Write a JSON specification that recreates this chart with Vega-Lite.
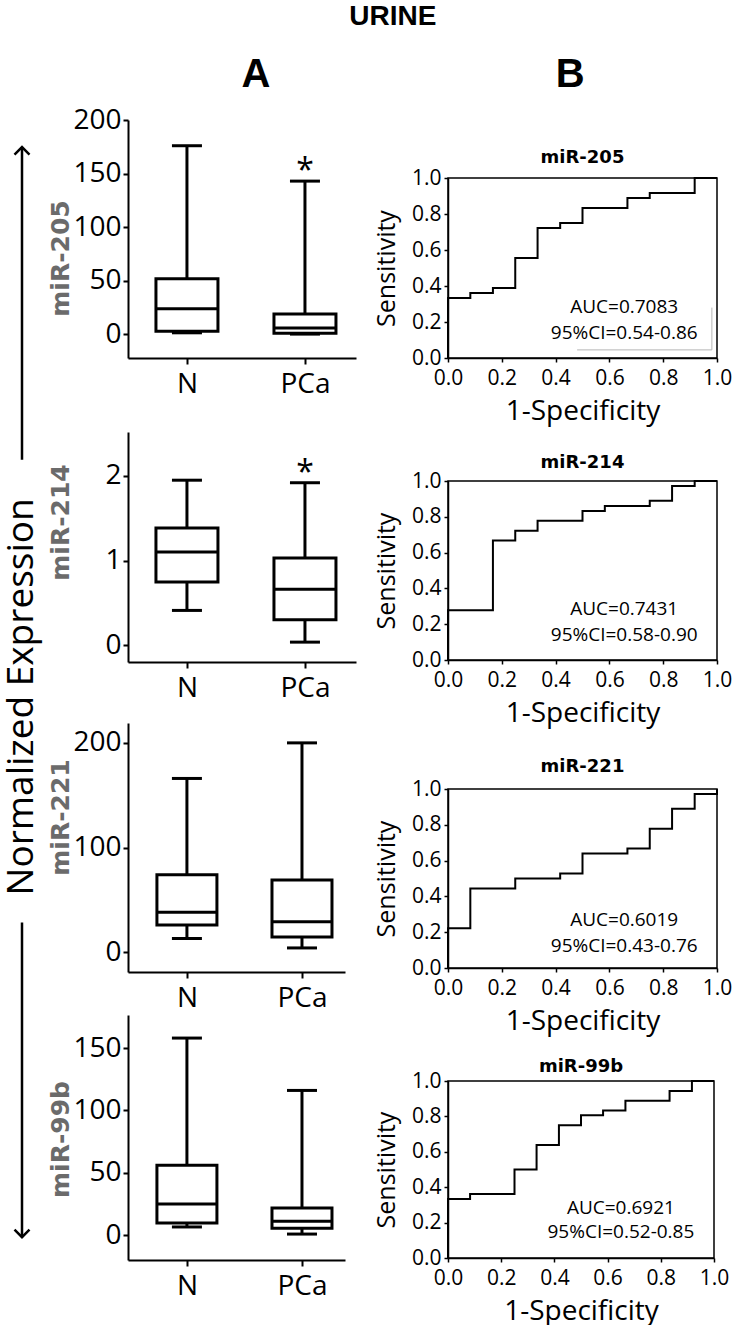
{
  "$schema": "https://vega.github.io/schema/vega-lite/v6.json",
  "padding": {"left": 3, "top": 3, "right": 5, "bottom": 5},
  "title": {"text": "URINE", "font": "Liberation Sans", "fontSize": 28, "fontWeight": "bold", "anchor": "middle", "dx": 25, "offset": 24, "color": "black"},
  "spacing": 8,
  "config": {
    "font": "Open Sans",
    "view": {"stroke": null},
    "axis": {"grid": false, "domainColor": "black", "tickColor": "black", "labelColor": "black", "titleColor": "black", "labelFlush": false, "labelOverlap": false, "labelFont": "Open Sans", "titleFont": "Open Sans"},
    "axisY": {"labelOverlap": false},
    "axisQuantitative": {"labelOverlap": false}
  },
  "datasets": {
    "box": [
      {"mir": "miR-205", "group": "N", "min": 1.5, "q1": 3, "median": 24, "q3": 52, "max": 176, "sig": ""},
      {"mir": "miR-205", "group": "PCa", "min": 0.3, "q1": 1, "median": 6, "q3": 19, "max": 143, "sig": "*"},
      {"mir": "miR-214", "group": "N", "min": 0.41, "q1": 0.745, "median": 1.1, "q3": 1.385, "max": 1.95, "sig": ""},
      {"mir": "miR-214", "group": "PCa", "min": 0.035, "q1": 0.3, "median": 0.66, "q3": 1.03, "max": 1.92, "sig": "*"},
      {"mir": "miR-221", "group": "N", "min": 13, "q1": 26, "median": 38, "q3": 74, "max": 166, "sig": ""},
      {"mir": "miR-221", "group": "PCa", "min": 4, "q1": 14.5, "median": 29, "q3": 69, "max": 200, "sig": ""},
      {"mir": "miR-99b", "group": "N", "min": 6.5, "q1": 9.6, "median": 25, "q3": 56, "max": 158, "sig": ""},
      {"mir": "miR-99b", "group": "PCa", "min": 0.8, "q1": 5.5, "median": 11, "q3": 21.7, "max": 116, "sig": ""}
    ],
    "roc": [
      {"mir": "miR-205", "i": 0, "fpr": 0, "tpr": 0},
      {"mir": "miR-205", "i": 1, "fpr": 0, "tpr": 0.333},
      {"mir": "miR-205", "i": 2, "fpr": 0.083, "tpr": 0.361},
      {"mir": "miR-205", "i": 3, "fpr": 0.167, "tpr": 0.389},
      {"mir": "miR-205", "i": 4, "fpr": 0.25, "tpr": 0.556},
      {"mir": "miR-205", "i": 5, "fpr": 0.333, "tpr": 0.722},
      {"mir": "miR-205", "i": 6, "fpr": 0.417, "tpr": 0.75},
      {"mir": "miR-205", "i": 7, "fpr": 0.5, "tpr": 0.833},
      {"mir": "miR-205", "i": 8, "fpr": 0.583, "tpr": 0.833},
      {"mir": "miR-205", "i": 9, "fpr": 0.667, "tpr": 0.889},
      {"mir": "miR-205", "i": 10, "fpr": 0.75, "tpr": 0.917},
      {"mir": "miR-205", "i": 11, "fpr": 0.833, "tpr": 0.917},
      {"mir": "miR-205", "i": 12, "fpr": 0.917, "tpr": 1},
      {"mir": "miR-205", "i": 13, "fpr": 1, "tpr": 1},
      {"mir": "miR-214", "i": 0, "fpr": 0, "tpr": 0},
      {"mir": "miR-214", "i": 1, "fpr": 0, "tpr": 0.278},
      {"mir": "miR-214", "i": 2, "fpr": 0.083, "tpr": 0.278},
      {"mir": "miR-214", "i": 3, "fpr": 0.167, "tpr": 0.667},
      {"mir": "miR-214", "i": 4, "fpr": 0.25, "tpr": 0.722},
      {"mir": "miR-214", "i": 5, "fpr": 0.333, "tpr": 0.778},
      {"mir": "miR-214", "i": 6, "fpr": 0.417, "tpr": 0.778},
      {"mir": "miR-214", "i": 7, "fpr": 0.5, "tpr": 0.833},
      {"mir": "miR-214", "i": 8, "fpr": 0.583, "tpr": 0.861},
      {"mir": "miR-214", "i": 9, "fpr": 0.667, "tpr": 0.861},
      {"mir": "miR-214", "i": 10, "fpr": 0.75, "tpr": 0.889},
      {"mir": "miR-214", "i": 11, "fpr": 0.833, "tpr": 0.972},
      {"mir": "miR-214", "i": 12, "fpr": 0.917, "tpr": 1},
      {"mir": "miR-214", "i": 13, "fpr": 1, "tpr": 1},
      {"mir": "miR-221", "i": 0, "fpr": 0, "tpr": 0},
      {"mir": "miR-221", "i": 1, "fpr": 0, "tpr": 0.222},
      {"mir": "miR-221", "i": 2, "fpr": 0.083, "tpr": 0.444},
      {"mir": "miR-221", "i": 3, "fpr": 0.167, "tpr": 0.444},
      {"mir": "miR-221", "i": 4, "fpr": 0.25, "tpr": 0.5},
      {"mir": "miR-221", "i": 5, "fpr": 0.333, "tpr": 0.5},
      {"mir": "miR-221", "i": 6, "fpr": 0.417, "tpr": 0.528},
      {"mir": "miR-221", "i": 7, "fpr": 0.5, "tpr": 0.639},
      {"mir": "miR-221", "i": 8, "fpr": 0.583, "tpr": 0.639},
      {"mir": "miR-221", "i": 9, "fpr": 0.667, "tpr": 0.667},
      {"mir": "miR-221", "i": 10, "fpr": 0.75, "tpr": 0.778},
      {"mir": "miR-221", "i": 11, "fpr": 0.833, "tpr": 0.889},
      {"mir": "miR-221", "i": 12, "fpr": 0.917, "tpr": 0.972},
      {"mir": "miR-221", "i": 13, "fpr": 1, "tpr": 0.972},
      {"mir": "miR-221", "i": 14, "fpr": 1, "tpr": 1},
      {"mir": "miR-99b", "i": 0, "fpr": 0, "tpr": 0},
      {"mir": "miR-99b", "i": 1, "fpr": 0, "tpr": 0.333},
      {"mir": "miR-99b", "i": 2, "fpr": 0.083, "tpr": 0.361},
      {"mir": "miR-99b", "i": 3, "fpr": 0.167, "tpr": 0.361},
      {"mir": "miR-99b", "i": 4, "fpr": 0.25, "tpr": 0.5},
      {"mir": "miR-99b", "i": 5, "fpr": 0.333, "tpr": 0.639},
      {"mir": "miR-99b", "i": 6, "fpr": 0.417, "tpr": 0.75},
      {"mir": "miR-99b", "i": 7, "fpr": 0.5, "tpr": 0.806},
      {"mir": "miR-99b", "i": 8, "fpr": 0.583, "tpr": 0.833},
      {"mir": "miR-99b", "i": 9, "fpr": 0.667, "tpr": 0.889},
      {"mir": "miR-99b", "i": 10, "fpr": 0.75, "tpr": 0.889},
      {"mir": "miR-99b", "i": 11, "fpr": 0.833, "tpr": 0.944},
      {"mir": "miR-99b", "i": 12, "fpr": 0.917, "tpr": 1},
      {"mir": "miR-99b", "i": 13, "fpr": 1, "tpr": 1}
    ],
    "auc": [
      {"mir": "miR-205", "auc": "AUC=0.7083", "ci": "95%CI=0.54-0.86"},
      {"mir": "miR-214", "auc": "AUC=0.7431", "ci": "95%CI=0.58-0.90"},
      {"mir": "miR-221", "auc": "AUC=0.6019", "ci": "95%CI=0.43-0.76"},
      {"mir": "miR-99b", "auc": "AUC=0.6921", "ci": "95%CI=0.52-0.85"}
    ]
  },
  "hconcat": [
    {
      "width": 36,
      "height": 1140,
      "data": {"values": [{"label": "Normalized Expression"}]},
      "layer": [
        {
          "mark": {"type": "text", "angle": 270, "fontSize": 37, "font": "Open Sans", "align": "center", "baseline": "middle", "color": "black"},
          "encoding": {
            "x": {"datum": 0.5, "type": "quantitative", "scale": {"domain": [0, 1]}, "axis": null},
            "y": {"datum": 0.506, "type": "quantitative", "scale": {"domain": [0, 1], "reverse": true}, "axis": null},
            "text": {"field": "label"}
          }
        },
        {
          "mark": {"type": "rule", "strokeWidth": 2.5, "color": "black"},
          "encoding": {"x": {"datum": 0.5}, "y": {"datum": 0.0237}, "y2": {"datum": 0.298}}
        },
        {
          "mark": {"type": "rule", "strokeWidth": 2.5, "color": "black"},
          "encoding": {"x": {"datum": 0.5}, "y": {"datum": 0.704}, "y2": {"datum": 0.98}}
        },
        {
          "mark": {"type": "point", "shape": "M-1,1L0,0L1,1", "size": 225, "filled": false, "strokeWidth": 2.5, "color": "black", "opacity": 1},
          "encoding": {"x": {"datum": 0.5}, "y": {"datum": 0.0237}}
        },
        {
          "mark": {"type": "point", "shape": "M-1,-1L0,0L1,-1", "size": 225, "filled": false, "strokeWidth": 2.5, "color": "black", "opacity": 1},
          "encoding": {"x": {"datum": 0.5}, "y": {"datum": 0.98}}
        }
      ]
    },
    {
      "title": {"text": "A", "font": "Liberation Sans", "fontSize": 40, "fontWeight": "bold", "anchor": "middle", "dx": 54, "offset": 11, "color": "black"},
      "bounds": "flush",
      "spacing": 0,
      "vconcat": [
        {
          "width": 228, "height": 238,
          "data": {"name": "box"},
          "transform": [{"filter": "datum.mir === 'miR-205'"}],
          "encoding": {
            "x": {"field": "group", "type": "nominal", "scale": {"type": "point", "domain": ["N", "PCa"], "padding": 0.466, "align": 0.536},
              "axis": {"title": null, "labelFontSize": 28, "labelAngle": 0, "tickSize": 6, "tickWidth": 2, "domainWidth": 2, "labelPadding": 6}}
          },
          "layer": [
            {"mark": {"type": "rule", "strokeWidth": 3, "color": "black"},
              "encoding": {"y": {"field": "min", "type": "quantitative", "scale": {"domain": [-22, 200], "nice": false, "zero": false},
                "axis": {"title": "miR-205", "values": [0, 50, 100, 150, 200], "format": "d", "labelOverlap": false, "labelFontSize": 28, "tickSize": 5, "tickWidth": 2, "domainWidth": 2, "labelPadding": 2,
                  "titleFont": "DejaVu Sans", "titleFontWeight": "bold", "titleFontSize": 25, "titleColor": "#6b6b6b", "titleX": -55, "titleY": 138}},
                "y2": {"field": "max"}}},
            {"mark": {"type": "bar", "width": 62, "fill": "white", "stroke": "black", "strokeWidth": 3},
              "encoding": {"y": {"field": "q1", "type": "quantitative"}, "y2": {"field": "q3"}}},
            {"mark": {"type": "tick", "size": 62, "thickness": 3, "color": "black", "orient": "horizontal", "opacity": 1},
              "encoding": {"y": {"field": "median", "type": "quantitative"}}},
            {"mark": {"type": "tick", "size": 30, "thickness": 3, "color": "black", "orient": "horizontal", "opacity": 1},
              "encoding": {"y": {"field": "max", "type": "quantitative"}}},
            {"mark": {"type": "tick", "size": 30, "thickness": 3, "color": "black", "orient": "horizontal", "opacity": 1},
              "encoding": {"y": {"field": "min", "type": "quantitative"}}},
            {"mark": {"type": "text", "fontSize": 32, "baseline": "alphabetic", "color": "black"},
              "encoding": {"y": {"field": "max", "type": "quantitative"}, "text": {"field": "sig"}}}
          ]
        },
        {"width": 1, "height": 74, "data": {"values": []}, "mark": "point"},
        {
          "width": 228, "height": 230,
          "data": {"name": "box"},
          "transform": [{"filter": "datum.mir === 'miR-214'"}],
          "encoding": {
            "x": {"field": "group", "type": "nominal", "scale": {"type": "point", "domain": ["N", "PCa"], "padding": 0.466, "align": 0.536},
              "axis": {"title": null, "labelFontSize": 28, "labelAngle": 0, "tickSize": 6, "tickWidth": 2, "domainWidth": 2, "labelPadding": 6}}
          },
          "layer": [
            {"mark": {"type": "rule", "strokeWidth": 3, "color": "black"},
              "encoding": {"y": {"field": "min", "type": "quantitative", "scale": {"domain": [-0.2, 2.52], "nice": false, "zero": false},
                "axis": {"title": "miR-214", "values": [0, 1, 2], "format": "d", "labelOverlap": false, "labelFontSize": 28, "tickSize": 5, "tickWidth": 2, "domainWidth": 2, "labelPadding": 2,
                  "titleFont": "DejaVu Sans", "titleFontWeight": "bold", "titleFontSize": 25, "titleColor": "#6b6b6b", "titleX": -55, "titleY": 90}},
                "y2": {"field": "max"}}},
            {"mark": {"type": "bar", "width": 62, "fill": "white", "stroke": "black", "strokeWidth": 3},
              "encoding": {"y": {"field": "q1", "type": "quantitative"}, "y2": {"field": "q3"}}},
            {"mark": {"type": "tick", "size": 62, "thickness": 3, "color": "black", "orient": "horizontal", "opacity": 1},
              "encoding": {"y": {"field": "median", "type": "quantitative"}}},
            {"mark": {"type": "tick", "size": 30, "thickness": 3, "color": "black", "orient": "horizontal", "opacity": 1},
              "encoding": {"y": {"field": "max", "type": "quantitative"}}},
            {"mark": {"type": "tick", "size": 30, "thickness": 3, "color": "black", "orient": "horizontal", "opacity": 1},
              "encoding": {"y": {"field": "min", "type": "quantitative"}}},
            {"mark": {"type": "text", "fontSize": 32, "baseline": "alphabetic", "color": "black"},
              "encoding": {"y": {"field": "max", "type": "quantitative"}, "text": {"field": "sig"}}}
          ]
        },
        {"width": 1, "height": 61, "data": {"values": []}, "mark": "point"},
        {
          "width": 217, "height": 249,
          "data": {"name": "box"},
          "transform": [{"filter": "datum.mir === 'miR-221'"}],
          "encoding": {
            "x": {"field": "group", "type": "nominal", "scale": {"type": "point", "domain": ["N", "PCa"], "padding": 0.443, "align": 0.578},
              "axis": {"title": null, "labelFontSize": 28, "labelAngle": 0, "tickSize": 6, "tickWidth": 2, "domainWidth": 2, "labelPadding": 6}}
          },
          "layer": [
            {"mark": {"type": "rule", "strokeWidth": 3, "color": "black"},
              "encoding": {"y": {"field": "min", "type": "quantitative", "scale": {"domain": [-19, 219], "nice": false, "zero": false},
                "axis": {"title": "miR-221", "values": [0, 100, 200], "format": "d", "labelOverlap": false, "labelFontSize": 28, "tickSize": 5, "tickWidth": 2, "domainWidth": 2, "labelPadding": 2,
                  "titleFont": "DejaVu Sans", "titleFontWeight": "bold", "titleFontSize": 25, "titleColor": "#6b6b6b", "titleX": -55, "titleY": 94}},
                "y2": {"field": "max"}}},
            {"mark": {"type": "bar", "width": 60, "fill": "white", "stroke": "black", "strokeWidth": 3},
              "encoding": {"y": {"field": "q1", "type": "quantitative"}, "y2": {"field": "q3"}}},
            {"mark": {"type": "tick", "size": 60, "thickness": 3, "color": "black", "orient": "horizontal", "opacity": 1},
              "encoding": {"y": {"field": "median", "type": "quantitative"}}},
            {"mark": {"type": "tick", "size": 30, "thickness": 3, "color": "black", "orient": "horizontal", "opacity": 1},
              "encoding": {"y": {"field": "max", "type": "quantitative"}}},
            {"mark": {"type": "tick", "size": 30, "thickness": 3, "color": "black", "orient": "horizontal", "opacity": 1},
              "encoding": {"y": {"field": "min", "type": "quantitative"}}}
          ]
        },
        {"width": 1, "height": 43, "data": {"values": []}, "mark": "point"},
        {
          "width": 217, "height": 245,
          "data": {"name": "box"},
          "transform": [{"filter": "datum.mir === 'miR-99b'"}],
          "encoding": {
            "x": {"field": "group", "type": "nominal", "scale": {"type": "point", "domain": ["N", "PCa"], "padding": 0.443, "align": 0.578},
              "axis": {"title": null, "labelFontSize": 28, "labelAngle": 0, "tickSize": 6, "tickWidth": 2, "domainWidth": 2, "labelPadding": 6}}
          },
          "layer": [
            {"mark": {"type": "rule", "strokeWidth": 3, "color": "black"},
              "encoding": {"y": {"field": "min", "type": "quantitative", "scale": {"domain": [-20, 176.5], "nice": false, "zero": false},
                "axis": {"title": "miR-99b", "values": [0, 50, 100, 150], "format": "d", "labelOverlap": false, "labelFontSize": 28, "tickSize": 5, "tickWidth": 2, "domainWidth": 2, "labelPadding": 2,
                  "titleFont": "DejaVu Sans", "titleFontWeight": "bold", "titleFontSize": 25, "titleColor": "#6b6b6b", "titleX": -55, "titleY": 124}},
                "y2": {"field": "max"}}},
            {"mark": {"type": "bar", "width": 60, "fill": "white", "stroke": "black", "strokeWidth": 3},
              "encoding": {"y": {"field": "q1", "type": "quantitative"}, "y2": {"field": "q3"}}},
            {"mark": {"type": "tick", "size": 60, "thickness": 3, "color": "black", "orient": "horizontal", "opacity": 1},
              "encoding": {"y": {"field": "median", "type": "quantitative"}}},
            {"mark": {"type": "tick", "size": 30, "thickness": 3, "color": "black", "orient": "horizontal", "opacity": 1},
              "encoding": {"y": {"field": "max", "type": "quantitative"}}},
            {"mark": {"type": "tick", "size": 30, "thickness": 3, "color": "black", "orient": "horizontal", "opacity": 1},
              "encoding": {"y": {"field": "min", "type": "quantitative"}}}
          ]
        }
      ]
    },
    {"width": 1, "height": 1, "data": {"values": []}, "mark": "point"},
    {
      "title": {"text": "B", "font": "Liberation Sans", "fontSize": 40, "fontWeight": "bold", "anchor": "middle", "dx": 17, "offset": 25, "color": "black"},
      "bounds": "flush",
      "spacing": 0,
      "vconcat": [
        {"width": 1, "height": 58, "data": {"values": []}, "mark": "point"},
        {
          "width": 269, "height": 180,
          "title": {"text": "miR-205", "font": "DejaVu Sans", "fontSize": 18, "fontWeight": "bold", "offset": 0, "frame": "group", "anchor": "middle", "color": "black"},
          "view": {"stroke": "black", "strokeWidth": 1.5},
          "layer": [
            {"data": {"name": "roc"}, "transform": [{"filter": "datum.mir === 'miR-205'"}],
              "mark": {"type": "line", "interpolate": "step-after", "color": "black", "strokeWidth": 2},
              "encoding": {
                "x": {"field": "fpr", "type": "quantitative", "scale": {"domain": [0, 1], "nice": false},
                  "axis": {"title": "1-Specificity", "values": [0, 0.2, 0.4, 0.6, 0.8, 1], "format": ".1f", "labelOverlap": false, "labelFontSize": 21, "titleFontSize": 28, "titleFontWeight": "normal", "tickSize": 4, "labelPadding": 5, "titlePadding": 9, "domainWidth": 1.5, "tickWidth": 1.5}},
                "y": {"field": "tpr", "type": "quantitative", "scale": {"domain": [0, 1], "nice": false},
                  "axis": {"title": "Sensitivity", "values": [0, 0.2, 0.4, 0.6, 0.8, 1], "format": ".1f", "labelOverlap": false, "labelSeparation": 0, "labelFontSize": 21, "titleFontSize": 25, "titleFontWeight": "normal", "tickSize": 4, "labelPadding": 3, "titlePadding": 12, "domainWidth": 1.5, "tickWidth": 1.5}},
                "order": {"field": "i"}}},
            {"data": {"name": "auc"}, "transform": [{"filter": "datum.mir === 'miR-205'"}],
              "mark": {"type": "text", "fontSize": 19, "color": "black"},
              "encoding": {"x": {"datum": 0.655}, "y": {"datum": 0.285, "axis": {"labelOverlap": false, "values": [0, 0.2, 0.4, 0.6, 0.8, 1]}}, "text": {"field": "auc"}}},
            {"data": {"name": "auc"}, "transform": [{"filter": "datum.mir === 'miR-205'"}],
              "mark": {"type": "text", "fontSize": 19, "color": "black"},
              "encoding": {"x": {"datum": 0.655}, "y": {"datum": 0.14, "axis": {"labelOverlap": false, "values": [0, 0.2, 0.4, 0.6, 0.8, 1]}}, "text": {"field": "ci"}}},
            {"data": {"name": "auc"}, "transform": [{"filter": "datum.mir === 'miR-205'"}],
              "mark": {"type": "rule", "color": "#b5b5b5", "strokeWidth": 1},
              "encoding": {"x": {"datum": 0.981}, "y": {"datum": 0.045, "axis": {"labelOverlap": false, "values": [0, 0.2, 0.4, 0.6, 0.8, 1]}}, "y2": {"datum": 0.28}}},
            {"data": {"name": "auc"}, "transform": [{"filter": "datum.mir === 'miR-205'"}],
              "mark": {"type": "rule", "color": "#b5b5b5", "strokeWidth": 1},
              "encoding": {"x": {"datum": 0.48}, "x2": {"datum": 0.981}, "y": {"datum": 0.045, "axis": {"labelOverlap": false, "values": [0, 0.2, 0.4, 0.6, 0.8, 1]}}}}
          ]
        },
        {"width": 1, "height": 123, "data": {"values": []}, "mark": "point"},
        {
          "width": 269, "height": 179,
          "title": {"text": "miR-214", "font": "DejaVu Sans", "fontSize": 18, "fontWeight": "bold", "offset": 0, "dy": 2, "frame": "group", "anchor": "middle", "color": "black"},
          "view": {"stroke": "black", "strokeWidth": 1.5},
          "layer": [
            {"data": {"name": "roc"}, "transform": [{"filter": "datum.mir === 'miR-214'"}],
              "mark": {"type": "line", "interpolate": "step-after", "color": "black", "strokeWidth": 2},
              "encoding": {
                "x": {"field": "fpr", "type": "quantitative", "scale": {"domain": [0, 1], "nice": false},
                  "axis": {"title": "1-Specificity", "values": [0, 0.2, 0.4, 0.6, 0.8, 1], "format": ".1f", "labelOverlap": false, "labelFontSize": 21, "titleFontSize": 28, "titleFontWeight": "normal", "tickSize": 4, "labelPadding": 5, "titlePadding": 9, "domainWidth": 1.5, "tickWidth": 1.5}},
                "y": {"field": "tpr", "type": "quantitative", "scale": {"domain": [0, 1], "nice": false},
                  "axis": {"title": "Sensitivity", "values": [0, 0.2, 0.4, 0.6, 0.8, 1], "format": ".1f", "labelOverlap": false, "labelSeparation": 0, "labelFontSize": 21, "titleFontSize": 25, "titleFontWeight": "normal", "tickSize": 4, "labelPadding": 3, "titlePadding": 12, "domainWidth": 1.5, "tickWidth": 1.5}},
                "order": {"field": "i"}}},
            {"data": {"name": "auc"}, "transform": [{"filter": "datum.mir === 'miR-214'"}],
              "mark": {"type": "text", "fontSize": 19, "color": "black"},
              "encoding": {"x": {"datum": 0.655}, "y": {"datum": 0.285, "axis": {"labelOverlap": false, "values": [0, 0.2, 0.4, 0.6, 0.8, 1]}}, "text": {"field": "auc"}}},
            {"data": {"name": "auc"}, "transform": [{"filter": "datum.mir === 'miR-214'"}],
              "mark": {"type": "text", "fontSize": 19, "color": "black"},
              "encoding": {"x": {"datum": 0.655}, "y": {"datum": 0.14, "axis": {"labelOverlap": false, "values": [0, 0.2, 0.4, 0.6, 0.8, 1]}}, "text": {"field": "ci"}}}
          ]
        },
        {"width": 1, "height": 129, "data": {"values": []}, "mark": "point"},
        {
          "width": 269, "height": 179,
          "title": {"text": "miR-221", "font": "DejaVu Sans", "fontSize": 18, "fontWeight": "bold", "offset": 2, "frame": "group", "anchor": "middle", "color": "black"},
          "view": {"stroke": "black", "strokeWidth": 1.5},
          "layer": [
            {"data": {"name": "roc"}, "transform": [{"filter": "datum.mir === 'miR-221'"}],
              "mark": {"type": "line", "interpolate": "step-after", "color": "black", "strokeWidth": 2},
              "encoding": {
                "x": {"field": "fpr", "type": "quantitative", "scale": {"domain": [0, 1], "nice": false},
                  "axis": {"title": "1-Specificity", "values": [0, 0.2, 0.4, 0.6, 0.8, 1], "format": ".1f", "labelOverlap": false, "labelFontSize": 21, "titleFontSize": 28, "titleFontWeight": "normal", "tickSize": 4, "labelPadding": 5, "titlePadding": 9, "domainWidth": 1.5, "tickWidth": 1.5}},
                "y": {"field": "tpr", "type": "quantitative", "scale": {"domain": [0, 1], "nice": false},
                  "axis": {"title": "Sensitivity", "values": [0, 0.2, 0.4, 0.6, 0.8, 1], "format": ".1f", "labelOverlap": false, "labelSeparation": 0, "labelFontSize": 21, "titleFontSize": 25, "titleFontWeight": "normal", "tickSize": 4, "labelPadding": 3, "titlePadding": 12, "domainWidth": 1.5, "tickWidth": 1.5}},
                "order": {"field": "i"}}},
            {"data": {"name": "auc"}, "transform": [{"filter": "datum.mir === 'miR-221'"}],
              "mark": {"type": "text", "fontSize": 19, "color": "black"},
              "encoding": {"x": {"datum": 0.655}, "y": {"datum": 0.27, "axis": {"labelOverlap": false, "values": [0, 0.2, 0.4, 0.6, 0.8, 1]}}, "text": {"field": "auc"}}},
            {"data": {"name": "auc"}, "transform": [{"filter": "datum.mir === 'miR-221'"}],
              "mark": {"type": "text", "fontSize": 19, "color": "black"},
              "encoding": {"x": {"datum": 0.655}, "y": {"datum": 0.125, "axis": {"labelOverlap": false, "values": [0, 0.2, 0.4, 0.6, 0.8, 1]}}, "text": {"field": "ci"}}}
          ]
        },
        {"width": 1, "height": 113, "data": {"values": []}, "mark": "point"},
        {
          "width": 266, "height": 177,
          "title": {"text": "miR-99b", "font": "DejaVu Sans", "fontSize": 18, "fontWeight": "bold", "offset": 0, "dy": 6, "frame": "group", "anchor": "middle", "color": "black"},
          "view": {"stroke": "black", "strokeWidth": 1.5},
          "layer": [
            {"data": {"name": "roc"}, "transform": [{"filter": "datum.mir === 'miR-99b'"}],
              "mark": {"type": "line", "interpolate": "step-after", "color": "black", "strokeWidth": 2},
              "encoding": {
                "x": {"field": "fpr", "type": "quantitative", "scale": {"domain": [0, 1], "nice": false},
                  "axis": {"title": "1-Specificity", "values": [0, 0.2, 0.4, 0.6, 0.8, 1], "format": ".1f", "labelOverlap": false, "labelFontSize": 21, "titleFontSize": 28, "titleFontWeight": "normal", "tickSize": 4, "labelPadding": 5, "titlePadding": 9, "domainWidth": 1.5, "tickWidth": 1.5}},
                "y": {"field": "tpr", "type": "quantitative", "scale": {"domain": [0, 1], "nice": false},
                  "axis": {"title": "Sensitivity", "values": [0, 0.2, 0.4, 0.6, 0.8, 1], "format": ".1f", "labelOverlap": false, "labelSeparation": 0, "labelFontSize": 21, "titleFontSize": 25, "titleFontWeight": "normal", "tickSize": 4, "labelPadding": 3, "titlePadding": 12, "domainWidth": 1.5, "tickWidth": 1.5}},
                "order": {"field": "i"}}},
            {"data": {"name": "auc"}, "transform": [{"filter": "datum.mir === 'miR-99b'"}],
              "mark": {"type": "text", "fontSize": 19, "color": "black"},
              "encoding": {"x": {"datum": 0.65}, "y": {"datum": 0.28, "axis": {"labelOverlap": false, "values": [0, 0.2, 0.4, 0.6, 0.8, 1]}}, "text": {"field": "auc"}}},
            {"data": {"name": "auc"}, "transform": [{"filter": "datum.mir === 'miR-99b'"}],
              "mark": {"type": "text", "fontSize": 19, "color": "black"},
              "encoding": {"x": {"datum": 0.65}, "y": {"datum": 0.147, "axis": {"labelOverlap": false, "values": [0, 0.2, 0.4, 0.6, 0.8, 1]}}, "text": {"field": "ci"}}}
          ]
        }
      ]
    }
  ]
}
